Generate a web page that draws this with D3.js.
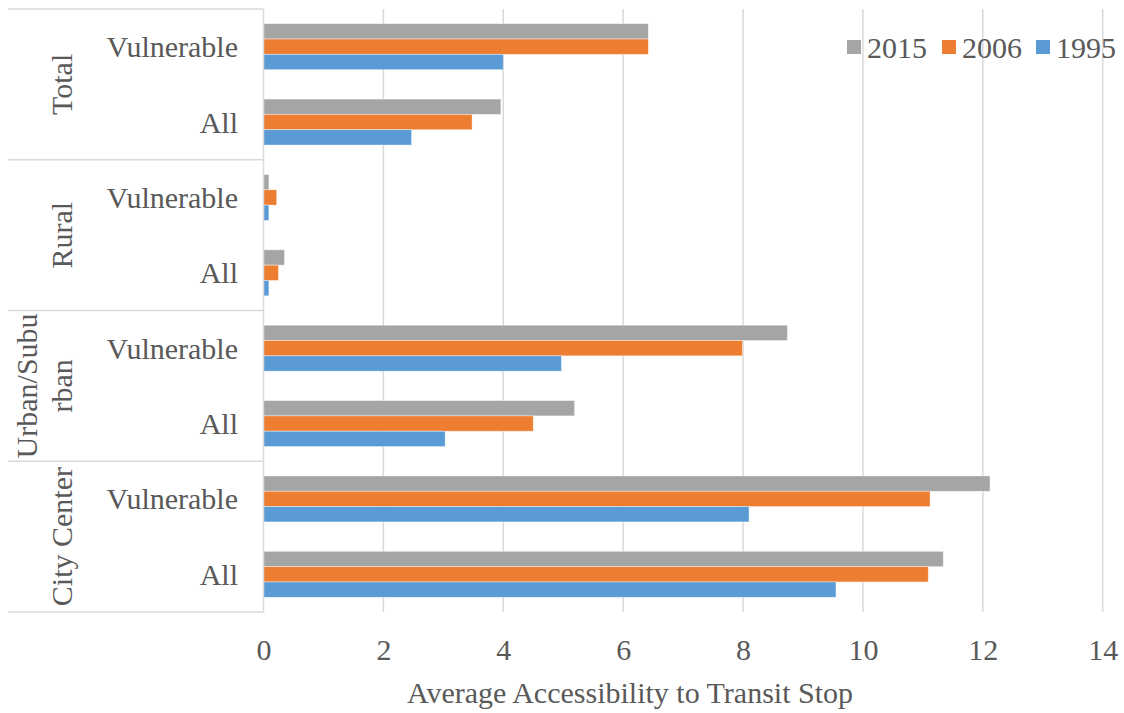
<!DOCTYPE html>
<html>
<head>
<meta charset="utf-8">
<script src="https://cdn.jsdelivr.net/npm/d3@7"></script>
<style>
  body { margin: 0; background: #fff; }
  text { font-family: "Liberation Serif", "Times New Roman", serif; fill: #595959; }
</style>
</head>
<body>
<div id="chart"></div>
<script>
// data
var groups = ["Total", "Rural", "Urban/Suburban", "City Center"];
var groupLines = [["Total"], ["Rural"], ["Urban/Subu", "rban"], ["City Center"]];
var subgroups = ["Vulnerable", "All"];
var years = ["2015", "2006", "1995"];
var v2015 = [6.42, 3.96, 0.09, 0.35, 8.74, 5.19, 12.12, 11.34];
var v2006 = [6.42, 3.48, 0.22, 0.25, 7.99, 4.50, 11.12, 11.09];
var v1995 = [4.00, 2.47, 0.09, 0.09, 4.97, 3.03, 8.10, 9.55];
var xTicks = [0, 2, 4, 6, 8, 10, 12, 14];
var colors = ["#A5A5A5", "#ED7D31", "#5B9BD5"];

var width = 1124, height = 713;
var plot = {left: 263.5, right: 1102.7, top: 9, bottom: 612};
var labelLeft = 8;
var fontSize = "30px";

var rows = [];
groups.forEach(function(g, gi) {
  subgroups.forEach(function(s, si) {
    var i = gi * 2 + si;
    rows.push({key: g + "|" + s, group: g, sub: s, vals: [v2015[i], v2006[i], v1995[i]]});
  });
});

var svg = d3.select("#chart").append("svg")
    .attr("width", width)
    .attr("height", height);

var x = d3.scaleLinear()
    .domain([0, 14])
    .range([plot.left, plot.right]);

var y0 = d3.scaleBand()
    .domain(rows.map(d => d.key))
    .range([plot.top, plot.bottom])
    .paddingInner(0.39)
    .paddingOuter(0.195);

var y1 = d3.scaleBand()
    .domain(years)
    .range([0, y0.bandwidth()]);

var yg = d3.scaleBand()
    .domain(groups)
    .range([plot.top, plot.bottom]);

// gridlines
svg.append("g")
    .selectAll("line")
    .data(xTicks.slice(1))
    .enter()
    .append("line")
    .attr("x1", d => x(d)).attr("x2", d => x(d))
    .attr("y1", plot.top).attr("y2", plot.bottom)
    .attr("stroke", "#D9D9D9")
    .attr("stroke-width", 1.5);

// bars
var rowG = svg.append("g")
    .selectAll("g")
    .data(rows)
    .enter()
    .append("g")
    .attr("transform", d => `translate(0,${y0(d.key)})`);

rowG.selectAll("rect")
    .data(d => d.vals.map((v, i) => ({year: years[i], value: v, i: i})))
    .enter()
    .append("rect")
    .attr("x", x(0))
    .attr("y", d => y1(d.year))
    .attr("width", d => x(d.value) - x(0))
    .attr("height", y1.bandwidth())
    .attr("fill", d => colors[d.i])
    .attr("stroke", "#fff")
    .attr("stroke-opacity", 0.5)
    .attr("stroke-width", 0.8);

// category axis lines
svg.append("line")
    .attr("x1", x(0)).attr("x2", x(0))
    .attr("y1", plot.top).attr("y2", plot.bottom)
    .attr("stroke", "#D9D9D9")
    .attr("stroke-width", 1.5);

var bounds = groups.map(g => yg(g)).concat([plot.bottom]);
svg.append("g")
    .selectAll("line")
    .data(bounds)
    .enter()
    .append("line")
    .attr("x1", labelLeft).attr("x2", x(0))
    .attr("y1", d => d).attr("y2", d => d)
    .attr("stroke", "#D9D9D9")
    .attr("stroke-width", 1.5);

// sub labels
svg.append("g")
    .selectAll("text")
    .data(rows)
    .enter()
    .append("text")
    .attr("x", 238)
    .attr("y", d => y0(d.key) + y0.bandwidth() / 2)
    .attr("dy", "0.35em")
    .attr("text-anchor", "end")
    .style("font-size", fontSize)
    .text(d => d.sub);

// group labels, rotated
groups.forEach(function(g, gi) {
  var lines = groupLines[gi];
  var cy = yg(g) + yg.bandwidth() / 2;
  var t = svg.append("text")
      .attr("transform", `translate(${72 - (lines.length - 1) * 35},${cy}) rotate(-90)`)
      .attr("text-anchor", "middle")
      .style("font-size", fontSize);
  lines.forEach(function(l, li) {
    t.append("tspan")
      .attr("x", 0)
      .attr("y", li * 35)
      .text(l);
  });
});

// x axis
var xAxis = d3.axisBottom(x)
    .tickValues(xTicks)
    .tickSize(0)
    .tickPadding(27);

var ax = svg.append("g")
    .attr("transform", `translate(0,${plot.bottom})`)
    .call(xAxis);
ax.select(".domain").remove();
ax.selectAll("text")
    .style("font-family", "'Liberation Serif', serif")
    .style("font-size", fontSize)
    .attr("fill", "#595959");

svg.append("text")
    .attr("x", 630)
    .attr("y", 703)
    .attr("text-anchor", "middle")
    .style("font-size", fontSize)
    .text("Average Accessibility to Transit Stop");

// legend
var legendX = [847, 942, 1036];
var legend = svg.append("g")
    .selectAll("g")
    .data(years)
    .enter()
    .append("g")
    .attr("transform", (d, i) => `translate(${legendX[i]},47)`);

legend.append("rect")
    .attr("x", 0).attr("y", -7)
    .attr("width", 14).attr("height", 14)
    .attr("fill", (d, i) => colors[i]);

legend.append("text")
    .attr("x", 20)
    .attr("dy", "0.35em")
    .style("font-size", fontSize)
    .text(d => d);
</script>
</body>
</html>
